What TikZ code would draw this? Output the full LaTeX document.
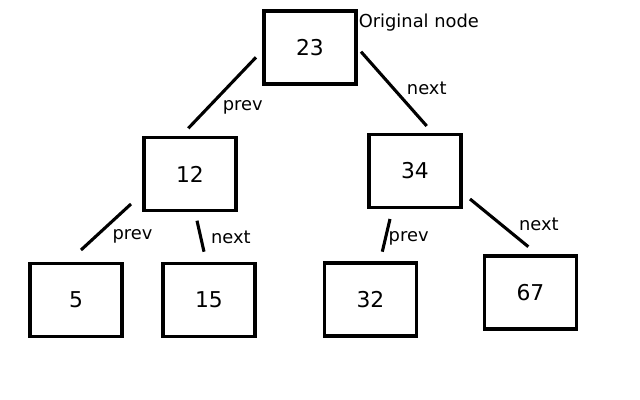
\documentclass[tikz,border=0pt]{standalone}
\usepackage{fontspec}
\setmainfont{DejaVu Sans}
\usepackage{tikz}

\tikzset{
  box/.style={draw, line width=2.2pt, minimum width=2.3cm, minimum height=1.825cm,
    inner sep=0pt, font=\fontsize{15.5}{18}\selectfont},
  link/.style={line width=2.2pt},
  lbl/.style={inner sep=0pt, font=\fontsize{12.7}{15}\selectfont}
}

\begin{document}
\begin{tikzpicture}[x=0.025cm, y=-0.025cm]
\useasboundingbox (0,0) rectangle (640,400);

% tree nodes
\node[box] (n23) at (310,47.5) {23};
\node[box] (n12) at (190,174) {12};
\node[box] (n34) at (415,171) {34};
\node[box] (n5) at (76,300) {5};
\node[box] (n15) at (209,300) {15};
\node[box] (n32) at (370.5,299.5) {32};
\node[box] (n67) at (530.5,292.5) {67};
\node[lbl, anchor=base west] (orig) at (358.5,27.3) {Original node};

% loose ends of the links
\coordinate (a23p) at (256,57.3);
\coordinate (b12p) at (188.3,128.3);
\coordinate (a23n) at (361,51.7);
\coordinate (b34n) at (426.7,126);
\coordinate (a12p) at (131,204);
\coordinate (b5p) at (81,250);
\coordinate (a12n) at (197,220.7);
\coordinate (b15n) at (204,251.7);
\coordinate (a34p) at (390,219);
\coordinate (b32p) at (382.3,251.7);
\coordinate (a34n) at (470,199);
\coordinate (b67n) at (528.3,246.7);

\draw[link] (a23p) -- (b12p) node[lbl, midway, shift={(20.6,14.7)}] {prev};
\draw[link] (a23n) -- (b34n) node[lbl, midway, shift={(32.9,-0.5)}] {next};
\draw[link] (a12p) -- (b5p) node[lbl, midway, shift={(26.5,9.7)}] {prev};
\draw[link] (a12n) -- (b15n) node[lbl, midway, shift={(30.3,1.5)}] {next};
\draw[link] (a34p) -- (b32p) node[lbl, midway, shift={(22.5,2.7)}] {prev};
\draw[link] (a34n) -- (b67n) node[lbl, midway, shift={(39.8,1.1)}] {next};
\end{tikzpicture}
\end{document}
